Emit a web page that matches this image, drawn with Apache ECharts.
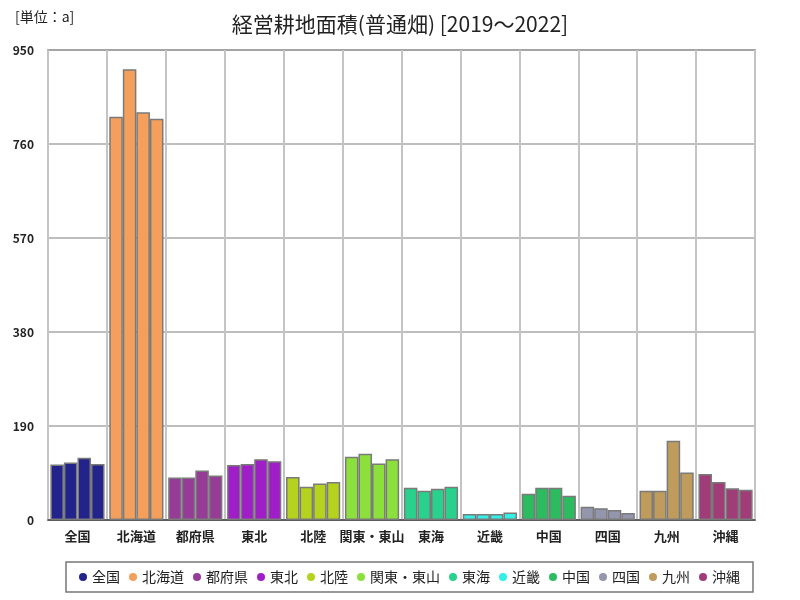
<!DOCTYPE html>
<html><head><meta charset="utf-8">
<script src="https://cdn.jsdelivr.net/npm/echarts@6/dist/echarts.min.js"></script>
<style>html,body{margin:0;padding:0;background:#fff}#c{width:800px;height:600px}</style>
</head><body><div id="c"></div>
<script>
const regions = ['全国','北海道','都府県','東北','北陸','関東・東山','東海','近畿','中国','四国','九州','沖縄'];
const years = ['2019','2020','2021','2022'];
const v2019 = [112, 815, 86, 111, 87, 128, 65, 12, 53, 27, 59, 93];
const v2020 = [116, 911, 86, 113, 67, 134, 59, 12, 65, 24, 59, 77];
const v2021 = [126, 824, 100, 123, 74, 114, 63, 12, 65, 20, 160, 64];
const v2022 = [113, 811, 90, 119, 77, 123, 67, 15, 49, 14, 96, 61];
const yTicks = [0, 190, 380, 570, 760, 950];
const colors = ['#23238c','#f4a05c','#963c96','#a01ec8','#b4d21e','#8ce03c','#28d28c','#32f0e6','#2dbb5f','#9496ad','#bf9c5c','#a03c78'];

const values = [v2019, v2020, v2021, v2022];
const font = '"Noto Sans CJK JP", sans-serif';
const series = [];
years.forEach((y, i) => {
  series.push({
    name: y, type: 'bar', xAxisIndex: 0, yAxisIndex: 0,
    barGap: '0%', barCategoryGap: '8%',
    data: values[i].map((v, j) => ({value: v, itemStyle: {color: colors[j]}})),
    itemStyle: {borderColor: '#7a7a7a', borderWidth: 1.5},
    emphasis: {disabled: true}
  });
});
regions.forEach((r, j) => {
  series.push({name: r, type: 'bar', xAxisIndex: 1, yAxisIndex: 0, data: [], itemStyle: {color: colors[j]}});
});

const chart = echarts.init(document.getElementById('c'));
chart.setOption({
  animation: false,
  textStyle: {fontFamily: font},
  title: [
    {text: '経営耕地面積(普通畑) [2019～2022]', left: 'center', top: 9,
     textStyle: {fontSize: 21, fontWeight: 'normal', color: '#222', fontFamily: font}},
    {text: '[単位：a]', left: 10, top: 5,
     textStyle: {fontSize: 14, fontWeight: 'normal', color: '#222', fontFamily: font}}
  ],
  legend: {
    data: regions, bottom: 8, left: 66,
    icon: 'circle', itemWidth: 8, itemHeight: 8, itemGap: 9,
    borderColor: '#777', borderWidth: 1.5, padding: [8, 13],
    textStyle: {fontSize: 14, color: '#222', fontFamily: font}
  },
  grid: {left: 48, right: 45, top: 50, bottom: 80, show: true, borderColor: '#777', borderWidth: 1.5},
  xAxis: [
    {type: 'category', data: regions,
     axisLine: {show: true, lineStyle: {color: '#444', width: 1.5}},
     axisTick: {show: false},
     splitLine: {show: true, lineStyle: {color: '#c4c4c4', width: 2}},
     axisLabel: {fontSize: 13, fontWeight: 'bold', color: '#222', margin: 10, interval: 0}},
    {type: 'category', data: regions, show: false}
  ],
  yAxis: {
    type: 'value', min: 0, max: 950, interval: 190,
    axisLine: {show: false}, axisTick: {show: false},
    splitLine: {lineStyle: {color: '#a8a8a8', width: 1.5}},
    axisLabel: {fontSize: 12, fontWeight: 'bold', color: '#222', margin: 14,
      formatter: v => yTicks.includes(v) ? String(v) : ''}
  },
  series: series
});
</script></body></html>
